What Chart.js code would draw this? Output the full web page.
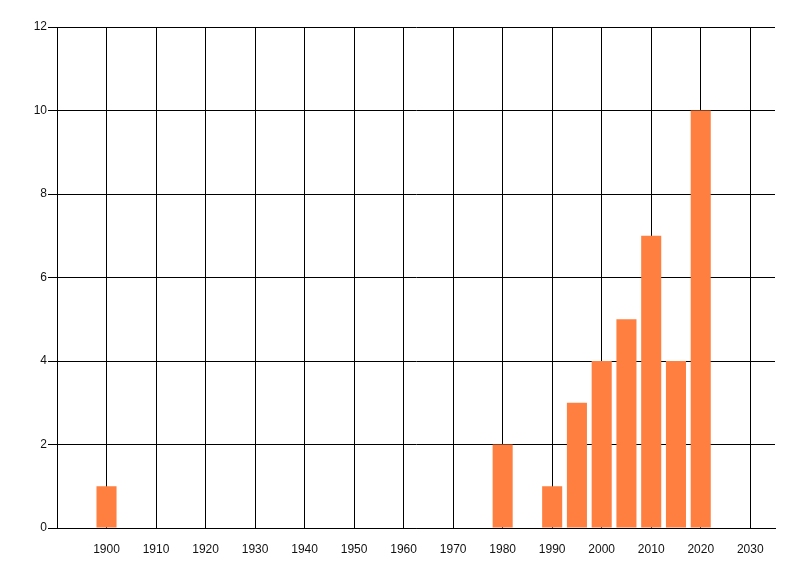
<!DOCTYPE html>
<html>
<head>
<meta charset="utf-8">
<script src="https://cdn.jsdelivr.net/npm/chart.js@4/dist/chart.umd.min.js"></script>
<style>
html,body{margin:0;padding:0;background:#fff;}
canvas{display:block;}
</style>
</head>
<body>
<canvas id="c" width="800" height="576"></canvas>
<script>
const years = [1900, 1980, 1990, 1995, 2000, 2005, 2010, 2015, 2020];
const counts = [1, 2, 1, 3, 4, 5, 7, 4, 10];
const xTickValues = [1900, 1910, 1920, 1930, 1940, 1950, 1960, 1970, 1980, 1990, 2000, 2010, 2020, 2030];
const yTickValues = [0, 2, 4, 6, 8, 10, 12];

const fontFamily = "'Liberation Sans Narrow', 'Liberation Sans', Arial, sans-serif";

// Draws the vertical grid lines at the x scale's tick positions
const xGridPlugin = {
  id: 'xGrid',
  beforeDatasetsDraw(chart) {
    const sx = chart.scales.x;
    const area = chart.chartArea;
    const ctx = chart.ctx;
    ctx.save();
    ctx.strokeStyle = '#000';
    ctx.lineWidth = 1;
    ctx.beginPath();
    sx.ticks.forEach(t => {
      const p = Math.round(sx.getPixelForValue(t.value) - 0.5) + 0.5;
      ctx.moveTo(p, area.top);
      ctx.lineTo(p, area.bottom);
    });
    ctx.stroke();
    ctx.restore();
  }
};

new Chart(document.getElementById('c'), {
  type: 'bar',
  data: {
    datasets: [{
      data: years.map((y, i) => ({x: y, y: counts[i]})),
      backgroundColor: '#FF7F40',
      barPercentage: 0.81,
      categoryPercentage: 1
    }]
  },
  plugins: [xGridPlugin],
  options: {
    responsive: false,
    animation: false,
    devicePixelRatio: 1,
    plugins: { legend: { display: false } },
    layout: { padding: { left: 0, right: 25, top: 27, bottom: 0 } },
    scales: {
      x: {
        type: 'linear',
        min: 1890,
        max: 2035,
        offset: false,
        afterBuildTicks: s => { s.ticks = xTickValues.map(v => ({value: v})); },
        afterFit: s => { s.height = 48; },
        grid: { display: false, offset: false },
        border: { color: '#000' },
        ticks: {
          color: '#111', padding: 6,
          font: { family: fontFamily, size: 12 },
          callback: v => String(v)
        }
      },
      y: {
        min: 0,
        max: 12,
        afterBuildTicks: s => { s.ticks = yTickValues.map(v => ({value: v})); },
        afterFit: s => { s.width = 57; },
        grid: { color: '#000', tickLength: 9 },
        border: { color: '#000' },
        ticks: {
          color: '#111', padding: 1,
          font: { family: fontFamily, size: 12 },
          callback: v => String(v)
        }
      }
    }
  }
});
</script>
</body>
</html>
